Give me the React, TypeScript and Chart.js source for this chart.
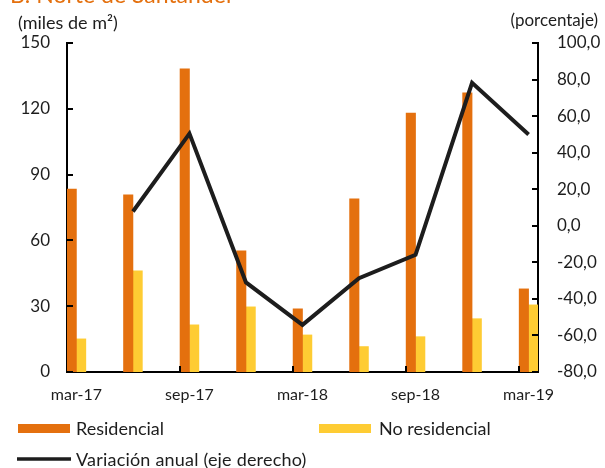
import React, { useEffect, useRef } from "react";
import { Chart, registerables } from "chart.js";

Chart.register(...registerables);

const months = [
  "mar-17", "abr-17", "may-17", "jun-17", "jul-17", "ago-17", "sep-17", "oct-17", "nov-17",
  "dic-17", "ene-18", "feb-18", "mar-18", "abr-18", "may-18", "jun-18", "jul-18", "ago-18",
  "sep-18", "oct-18", "nov-18", "dic-18", "ene-19", "feb-19", "mar-19",
];
const quarters = ["mar-17", "jun-17", "sep-17", "dic-17", "mar-18", "jun-18", "sep-18", "dic-18", "mar-19"];
const residencial = [83.4, 80.8, 138.2, 55.3, 28.8, 78.9, 118.1, 127.3, 37.9];
const noResidencial = [15.1, 46.1, 21.5, 29.7, 16.9, 11.6, 16.1, 24.3, 30.6];
const variacion: (number | null)[] = [null, 7.8, 50.4, -31.0, -54.2, -28.7, -15.9, 78.2, 49.9];
const xTickLabels = ["mar-17", "sep-17", "mar-18", "sep-18", "mar-19"];

const TITLE = "B. Norte de Santander";
const LEFT_UNIT = "(miles de m²)";
const RIGHT_UNIT = "(porcentaje)";
const LABEL_RES = "Residencial";
const LABEL_NORES = "No residencial";
const LABEL_VAR = "Variación anual (eje derecho)";

const ORANGE = "#E4700E";
const YELLOW = "#FECC33";
const DARK = "#1d1d1d";
const FONT = "Lato, 'Open Sans', sans-serif";

function toMonthly(values: (number | null)[]) {
  const out: (number | null)[] = months.map(() => null);
  quarters.forEach((q, i) => {
    out[months.indexOf(q)] = values[i];
  });
  return out;
}

const decorPlugin = {
  id: "decor",
  afterDraw(chart: any) {
    const ctx = chart.ctx;
    const area = chart.chartArea;
    const x = chart.scales.x;
    const y = chart.scales.y;
    const y1 = chart.scales.y1;
    ctx.save();
    // inner tick marks
    ctx.strokeStyle = "#000";
    ctx.lineWidth = 2;
    ctx.beginPath();
    y.ticks.forEach((t: any) => {
      const py = Math.round(y.getPixelForValue(t.value));
      ctx.moveTo(area.left, py);
      ctx.lineTo(area.left + 6, py);
    });
    y1.ticks.forEach((t: any) => {
      const py = Math.round(y1.getPixelForValue(t.value));
      ctx.moveTo(area.right - 6, py);
      ctx.lineTo(area.right, py);
    });
    months.forEach((m, i) => {
      if (i > 0 && i % 6 === 0) {
        const px = Math.round((x.getPixelForValue(i - 1) + x.getPixelForValue(i)) / 2);
        ctx.moveTo(px, area.bottom);
        ctx.lineTo(px, area.bottom - 6);
      }
    });
    ctx.stroke();

    // title (clipped at top)
    ctx.fillStyle = ORANGE;
    ctx.font = `23px ${FONT}`;
    ctx.textAlign = "left";
    ctx.textBaseline = "alphabetic";
    ctx.fillText(TITLE, 10, 3);

    // units
    ctx.fillStyle = DARK;
    ctx.font = `18px ${FONT}`;
    ctx.textBaseline = "middle";
    ctx.fillText(LEFT_UNIT, 18, 23);
    ctx.textAlign = "right";
    ctx.font = `17px ${FONT}`;
    ctx.fillText(RIGHT_UNIT, 598, 21);

    // legend
    ctx.textAlign = "left";
    ctx.font = `18px ${FONT}`;
    ctx.fillStyle = ORANGE;
    ctx.fillRect(18, 424, 52, 9);
    ctx.fillStyle = YELLOW;
    ctx.fillRect(319, 424, 52, 9);
    ctx.strokeStyle = DARK;
    ctx.lineWidth = 3.5;
    ctx.beginPath();
    ctx.moveTo(17, 459);
    ctx.lineTo(71, 459);
    ctx.stroke();
    ctx.fillStyle = DARK;
    ctx.fillText(LABEL_RES, 76, 429);
    ctx.fillText(LABEL_NORES, 379, 429);
    (ctx as any).letterSpacing = "0.2px";
    ctx.fillText(LABEL_VAR, 76, 460);
    ctx.restore();
  },
};

export default function App() {
  const ref = useRef<HTMLCanvasElement | null>(null);
  useEffect(() => {
    if (!ref.current) return;
    const chart = new Chart(ref.current, {
      type: "bar",
      data: {
        labels: months,
        datasets: [
          {
            type: "line",
            label: LABEL_VAR,
            data: toMonthly(variacion),
            borderColor: DARK,
            borderWidth: 4,
            pointRadius: 0,
            spanGaps: true,
            yAxisID: "y1",
            order: 0,
            tension: 0,
          } as any,
          {
            label: LABEL_RES,
            data: toMonthly(residencial),
            backgroundColor: ORANGE,
            yAxisID: "y",
            categoryPercentage: 1,
            barPercentage: 1,
            order: 1,
          },
          {
            label: LABEL_NORES,
            data: toMonthly(noResidencial),
            backgroundColor: YELLOW,
            yAxisID: "y",
            categoryPercentage: 1,
            barPercentage: 1,
            order: 2,
          },
        ],
      },
      options: {
        responsive: false,
        animation: false,
        devicePixelRatio: 1,
        layout: { padding: { top: 43, left: 0, right: 0, bottom: 0 } },
        plugins: { legend: { display: false }, tooltip: { enabled: false }, title: { display: false } },
        scales: {
          x: {
            offset: true,
            grid: { display: false, drawTicks: false, tickLength: 0 },
            border: { display: true, color: "#000", width: 2 },
            ticks: {
              autoSkip: false,
              maxRotation: 0,
              padding: 13,
              color: DARK,
              font: { family: FONT, size: 16 },
              callback: (_v: any, i: number) => (xTickLabels.includes(months[i]) ? months[i] : ""),
            },
            afterFit: (s: any) => {
              s.height = 96;
            },
          },
          y: {
            position: "left",
            min: 0,
            max: 150,
            grid: { display: false, drawTicks: false, tickLength: 0 },
            border: { display: true, color: "#000", width: 2 },
            ticks: {
              stepSize: 30,
              padding: 17,
              color: DARK,
              font: { family: FONT, size: 17 },
            },
            afterFit: (s: any) => {
              s.width = 67;
            },
          },
          y1: {
            position: "right",
            min: -80,
            max: 100,
            grid: { display: false, drawTicks: false, tickLength: 0 },
            border: { display: true, color: "#000", width: 2 },
            ticks: {
              stepSize: 20,
              padding: 19,
              color: DARK,
              font: { family: FONT, size: 17 },
              callback: (v: any) => Number(v).toFixed(1).replace(".", ","),
            },
            afterFit: (s: any) => {
              s.width = 67;
            },
          },
        },
      },
      plugins: [decorPlugin],
    });
    return () => chart.destroy();
  }, []);
  return (
    <div style={{ position: "absolute", left: 0, top: 0, width: 605, height: 468, background: "#fff" }}>
      <canvas ref={ref} width={605} height={468} style={{ width: 605, height: 468 }} />
    </div>
  );
}
